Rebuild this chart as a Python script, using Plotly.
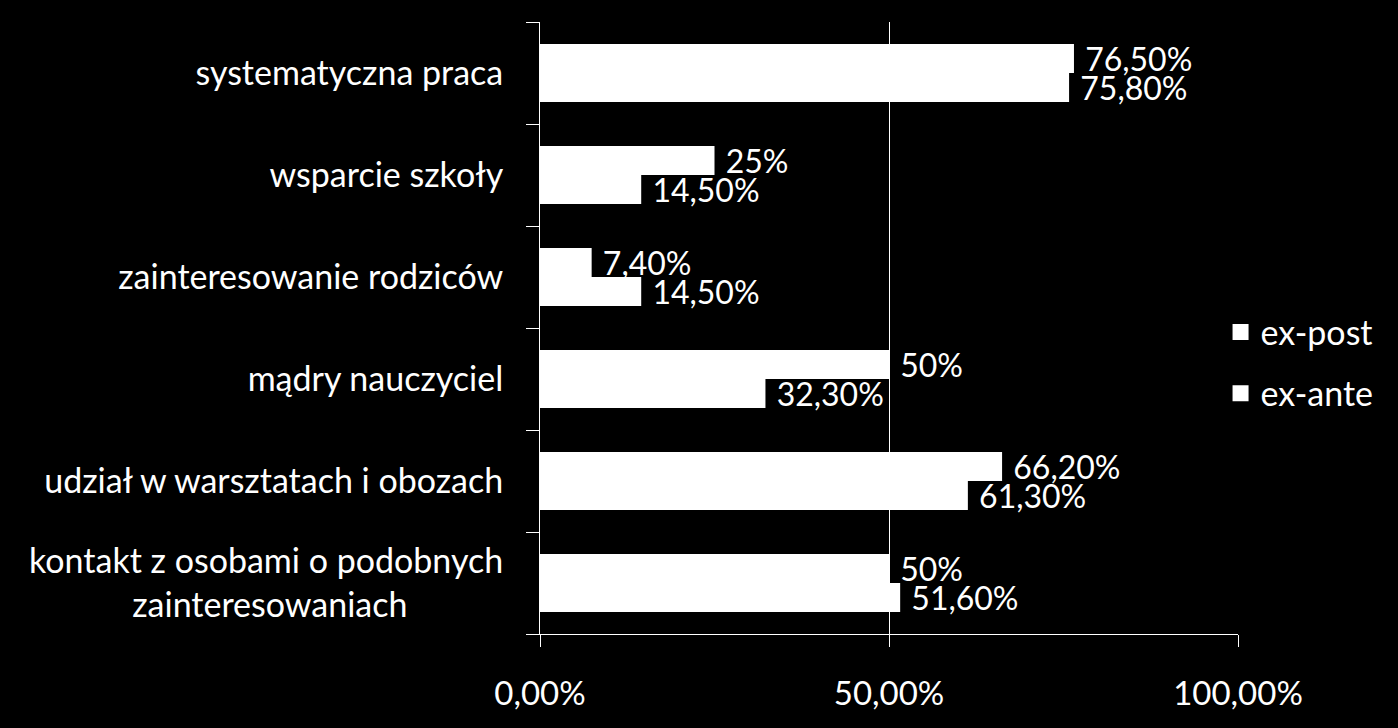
import plotly.graph_objects as go

categories = [
    "systematyczna praca",
    "wsparcie szkoły",
    "zainteresowanie rodziców",
    "mądry nauczyciel",
    "udział w warsztatach i obozach",
    "kontakt z osobami o podobnych<br>zainteresowaniach" + "\u00a0" * 11,
]
ex_post = [76.5, 25.0, 7.4, 50.0, 66.2, 50.0]
ex_ante = [75.8, 14.5, 14.5, 32.3, 61.3, 51.6]
ex_post_labels = ["76,50%", "25%", "7,40%", "50%", "66,20%", "50%"]
ex_ante_labels = ["75,80%", "14,50%", "14,50%", "32,30%", "61,30%", "51,60%"]
x_ticks = [0, 50, 100]
x_tick_labels = ["0,00%", "50,00%", "100,00%"]

FONT = "Lato"
cats_plot = categories[::-1]
PAD = "\u00a0"

fig = go.Figure()
fig.add_trace(go.Bar(
    y=cats_plot, x=ex_ante[::-1], orientation="h", name="ex-ante",
    marker=dict(color="white", line=dict(width=0)),
    text=[PAD + t for t in ex_ante_labels[::-1]], textposition="outside",
    textfont=dict(color="white", size=32, family=FONT),
    constraintext="none", cliponaxis=False, showlegend=False,
))
fig.add_trace(go.Bar(
    y=cats_plot, x=ex_post[::-1], orientation="h", name="ex-post",
    marker=dict(color="white", line=dict(width=0)),
    text=[PAD + t for t in ex_post_labels[::-1]], textposition="outside",
    textfont=dict(color="white", size=32, family=FONT),
    constraintext="none", cliponaxis=False, showlegend=False,
))
for nm, grp in [("ex-post", "a"), ("ex-ante", "b")]:
    fig.add_trace(go.Scatter(
        x=[None], y=[None], mode="markers", name=nm, legendgroup=grp,
        marker=dict(symbol="square", size=19, color="white"),
    ))

fig.update_layout(
    width=1398, height=728,
    paper_bgcolor="black", plot_bgcolor="black",
    margin=dict(l=540, r=160, t=22, b=94),
    barmode="group", bargap=0.43, bargroupgap=0,
    font=dict(family=FONT, color="white", size=30),
    legend=dict(
        x=0.975, y=0.443, xanchor="left", yanchor="middle",
        bgcolor="rgba(0,0,0,0)", font=dict(size=34, color="white", family=FONT),
        traceorder="grouped", tracegroupgap=14,
    ),
    xaxis=dict(
        range=[0, 100], tickvals=x_ticks, ticktext=x_tick_labels,
        showgrid=True, gridcolor="white", gridwidth=1,
        showline=True, linecolor="white", linewidth=1,
        ticks="outside", ticklen=12, tickcolor="white",
        ticklabelstandoff=18, zeroline=False,
        tickfont=dict(size=33, color="white", family=FONT),
    ),
    yaxis=dict(
        type="category", categoryorder="array", categoryarray=cats_plot,
        showline=True, linecolor="white", linewidth=1,
        ticks="outside", ticklen=13, tickcolor="white", tickson="boundaries",
        ticklabelstandoff=29, showgrid=False,
        tickfont=dict(size=34, color="white", family=FONT),
    ),
)

fig.write_html("out.html")
